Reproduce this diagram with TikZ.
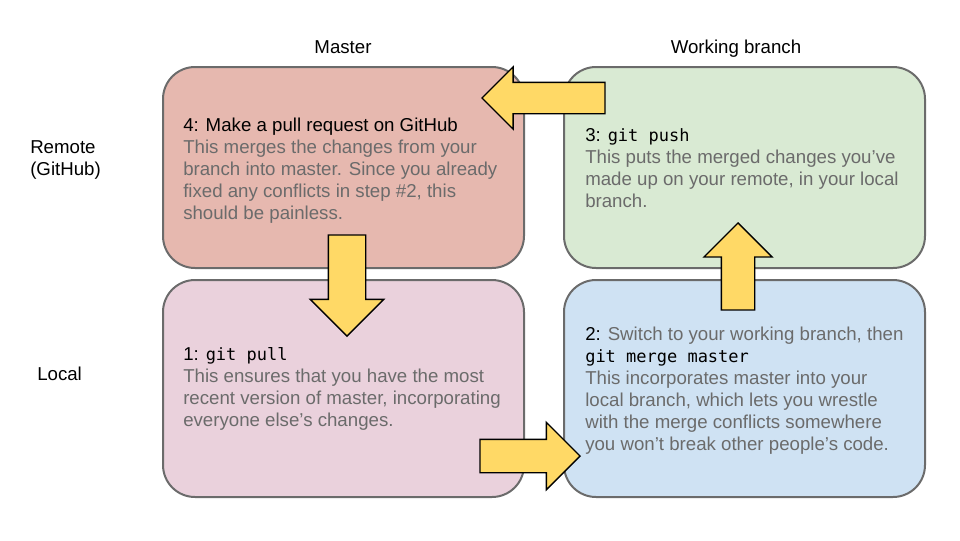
\documentclass[tikz,border=0pt]{standalone}
\usepackage{fontspec}
\setmainfont{Liberation Sans}
\setmonofont[Scale=0.91]{DejaVu Sans Mono}
\usepackage{xcolor}
\usetikzlibrary{shapes.arrows,positioning}

\definecolor{masterred}{HTML}{E6B8AF}
\definecolor{localpink}{HTML}{EAD1DC}
\definecolor{remotegreen}{HTML}{D9EAD3}
\definecolor{localblue}{HTML}{CFE2F3}
\definecolor{cardline}{HTML}{6B6B6B}
\definecolor{notegray}{HTML}{6B6B6B}
\definecolor{arrowyellow}{HTML}{FFD966}

\begin{document}
\begin{tikzpicture}[x=0.75pt, y=-0.75pt, font=\fontsize{14}{16.5}\selectfont]
        % Define styles
        \tikzset{
            card/.style={draw=cardline, line width=1.5pt, rounded corners=24pt, minimum width=270.75pt},
            note/.style={anchor=north west, inner sep=0pt, align=left, text=notegray},
            yarrow/.style={single arrow, draw=black, fill=arrowyellow, line width=1pt, inner sep=0pt, anchor=tip}
        }
        \useasboundingbox (0,0) rectangle (960,540);

        % Create boxes
        \node [card, fill=masterred, minimum height=150.75pt] (pr) at (343.5,167.5) {};
        \node [card, fill=remotegreen, minimum height=150.75pt, right=28.5pt of pr] (push) {};
        \node [card, fill=localpink, minimum height=162.75pt, below=7.5pt of pr] (pull) {};
        \node [card, fill=localblue, minimum height=162.75pt, below=7.5pt of push] (merge) {};

        % Add box texts
        \node [note] (prtext) at (183,117.6) {\textcolor{black}{4: Make a pull request on GitHub}\\This merges the changes from your\\branch into master. Since you already\\fixed any conflicts in step \#2, this\\should be painless.};
        \node [note] (pushtext) at (585,128.6) {\textcolor{black}{3: \texttt{git push}}\\This puts the merged changes you’ve\\made up on your remote, in your local\\branch.};
        \node [note] (pulltext) at (183,347.6) {\textcolor{black}{1: \texttt{git pull}}\\This ensures that you have the most\\recent version of master, incorporating\\everyone else’s changes.};
        \node [note] (mergetext) at (585,326.6) {\textcolor{black}{2:} Switch to your working branch, then\\\textcolor{black}{\texttt{git merge master}}\\This incorporates master into your\\local branch, which lets you wrestle\\with the merge conflicts somewhere\\you won’t break other people’s code.};

        % Create arrows
        \node [yarrow, minimum height=92.25pt, inner ysep=11.25pt, single arrow head extend=11.6pt, rotate=180] (pushtopr) at (481,98) {};
        \node [yarrow, minimum height=75.75pt, inner ysep=13.5pt, single arrow head extend=13.5pt, rotate=-90] (prtopull) at (347,337) {};
        \node [yarrow, minimum height=75pt, inner ysep=12pt, single arrow head extend=12.75pt] (pulltomerge) at (581,456) {};
        \node [yarrow, minimum height=65.25pt, inner ysep=12pt, single arrow head extend=13pt, rotate=90] (mergetopush) at (738,222) {};

        % Add side labels
        \node [anchor=base] (mastercol) at (343,53) {Master};
        \node [anchor=base] (workcol) at (736,53) {Working branch};
        \node [anchor=north west, inner sep=0pt, align=left] (remoterow) at (30,140.2) {Remote\\(GitHub)};
        \node [anchor=base west, inner sep=0pt] (localrow) at (37,380) {Local};
    \end{tikzpicture}
\end{document}
